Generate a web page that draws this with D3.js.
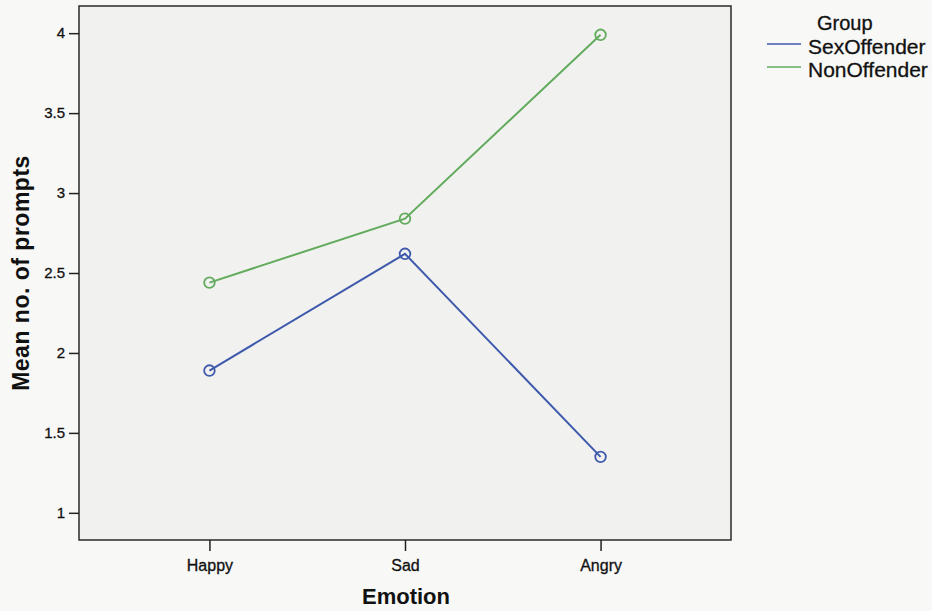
<!DOCTYPE html>
<html>
<head>
<meta charset="utf-8">
<script src="https://cdn.jsdelivr.net/npm/d3@7"></script>
<style>
  body { margin: 0; background: #f8f8f6; }
  svg { display: block; font-family: "Liberation Sans", Arial, sans-serif; }
</style>
</head>
<body>
<svg width="932" height="611"></svg>
<script>
const emotions = ['Happy', 'Sad', 'Angry'];
const groups = ['SexOffender', 'NonOffender'];
const sexOffender = [1.89, 2.62, 1.35];
const nonOffender = [2.44, 2.84, 3.99];
const yTicks = [1, 1.5, 2, 2.5, 3, 3.5, 4];
const colors = ['#3f5aac', '#62ab5c'];

const svg = d3.select('svg');
const plotL = 79, plotR = 731, plotT = 6, plotB = 540;

const x = d3.scalePoint().domain(emotions).range([plotL, plotR]).padding(0.667);
const y = d3.scaleLinear().domain([0.83, 4.17]).range([plotB, plotT]);

// plot area
svg.append('rect')
  .attr('x', plotL).attr('y', plotT)
  .attr('width', plotR - plotL).attr('height', plotB - plotT)
  .attr('fill', '#f1f1ef').attr('stroke', '#2a2a2a').attr('stroke-width', 1.5);

// y axis
const yAxis = svg.append('g')
  .attr('transform', `translate(${plotL},0)`)
  .call(d3.axisLeft(y).tickValues(yTicks).tickSize(10).tickPadding(4).tickFormat(d3.format('')));
yAxis.select('.domain').remove();
yAxis.selectAll('line').attr('stroke', '#222').attr('stroke-width', 1.5);
yAxis.selectAll('text').attr('font-size', 15).attr('fill', '#111')
  .attr('stroke', '#111').attr('stroke-width', 0.3)
  .attr('font-family', '"Liberation Sans", Arial, sans-serif');

// x axis
const xAxis = svg.append('g')
  .attr('transform', `translate(0,${plotB})`)
  .call(d3.axisBottom(x).tickSize(11).tickPadding(9));
xAxis.select('.domain').remove();
xAxis.selectAll('line').attr('stroke', '#222').attr('stroke-width', 1.5);
xAxis.selectAll('text').attr('font-size', 16).attr('fill', '#111')
  .attr('stroke', '#111').attr('stroke-width', 0.3)
  .attr('font-family', '"Liberation Sans", Arial, sans-serif');

// axis titles
svg.append('text')
  .attr('x', (plotL + plotR) / 2 + 1).attr('y', 604)
  .attr('text-anchor', 'middle').attr('font-size', 22).attr('font-weight', 'bold')
  .attr('fill', '#111').text('Emotion');

svg.append('text')
  .attr('transform', `translate(29,${(plotT + plotB) / 2}) rotate(-90)`)
  .attr('text-anchor', 'middle').attr('font-size', 23).attr('font-weight', 'bold')
  .attr('letter-spacing', 0.5).attr('fill', '#111').text('Mean no. of prompts');

// series
const series = [sexOffender, nonOffender];
const line = d3.line().x((d, i) => x(emotions[i])).y(d => y(d));

series.forEach((vals, gi) => {
  svg.append('path')
    .datum(vals)
    .attr('d', line)
    .attr('fill', 'none')
    .attr('stroke', colors[gi])
    .attr('stroke-width', 2);
  svg.selectAll(null)
    .data(vals)
    .enter().append('circle')
    .attr('cx', (d, i) => x(emotions[i]))
    .attr('cy', d => y(d))
    .attr('r', 5.3)
    .attr('fill', 'none')
    .attr('stroke', colors[gi])
    .attr('stroke-width', 1.8);
});

// legend
const legend = svg.append('g');
legend.append('text')
  .attr('x', 817).attr('y', 30)
  .attr('font-size', 20).attr('fill', '#111')
  .attr('stroke', '#111').attr('stroke-width', 0.3).text('Group');
groups.forEach((g, i) => {
  const yy = 44 + i * 23;
  legend.append('line')
    .attr('x1', 767).attr('x2', 801)
    .attr('y1', yy).attr('y2', yy)
    .attr('stroke', colors[i]).attr('stroke-width', 1.5);
  legend.append('text')
    .attr('x', 808).attr('y', yy + 10)
    .attr('font-size', 21).attr('fill', '#111')
    .attr('stroke', '#111').attr('stroke-width', 0.3).text(g);
});
</script>
</body>
</html>
